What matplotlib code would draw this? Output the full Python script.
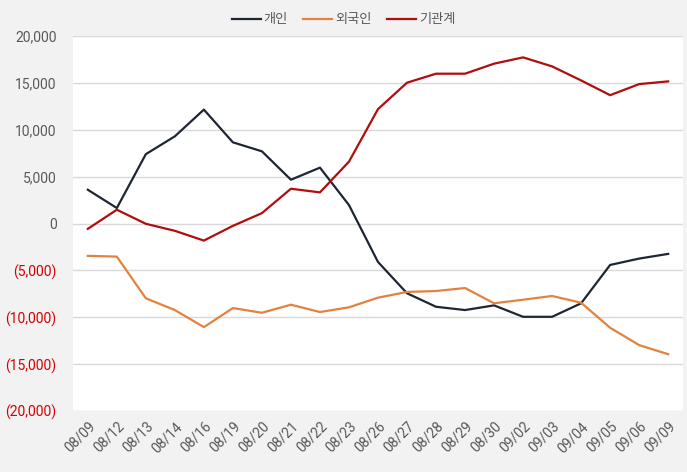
import matplotlib
matplotlib.use("Agg")
import matplotlib.pyplot as plt
from matplotlib.ticker import FixedLocator

plt.rcParams['font.family'] = ['Roboto', 'Noto Sans CJK KR', 'DejaVu Sans']

dates = ["08/09", "08/12", "08/13", "08/14", "08/16", "08/19", "08/20", "08/21",
         "08/22", "08/23", "08/26", "08/27", "08/28", "08/29", "08/30", "09/02",
         "09/03", "09/04", "09/05", "09/06", "09/09"]
individual = [3600, 1650, 7400, 9300, 12150, 8660, 7700, 4670, 5960, 1970, -4100,
              -7440, -8880, -9230, -8730, -9950, -9950, -8510, -4420, -3740, -3240]
foreign = [-3450, -3530, -7980, -9230, -11050, -9020, -9520, -8660, -9440, -8940,
           -7910, -7300, -7200, -6880, -8510, -8130, -7730, -8450, -11120, -12970, -13940]
institution = [-570, 1470, -30, -780, -1820, -250, 1110, 3710, 3320, 6600, 12200,
               15020, 15980, 15980, 17050, 17720, 16760, 15260, 13690, 14870, 15160]
series_names = ["개인", "외국인", "기관계"]
yticks = [-20000, -15000, -10000, -5000, 0, 5000, 10000, 15000, 20000]

fig = plt.figure(figsize=(6.87, 4.72), dpi=100, facecolor="#f2f2f2")
ax = fig.add_axes([0.1067, 0.1292, 0.887, 0.7945])
ax.set_facecolor("white")

x = list(range(len(dates)))
ax.plot(x, individual, color="#1e2633", lw=1.6, label=series_names[0])
ax.plot(x, foreign, color="#e3823f", lw=1.6, label=series_names[1])
ax.plot(x, institution, color="#b00d0d", lw=1.6, label=series_names[2])

ax.set_xlim(-0.5, len(dates) - 0.5)
ax.set_ylim(-20000, 20000)
ax.yaxis.set_major_locator(FixedLocator(yticks))
ax.grid(axis="y", color="#d9d9d9", lw=1)
ax.set_axisbelow(True)
for s in ax.spines.values():
    s.set_visible(False)

ax.set_xticks(x)
ax.set_xticklabels(dates, rotation=45, ha="right", rotation_mode="anchor",
                   color="#595959", fontsize=10)
ax.tick_params(axis="both", length=0)
ax.tick_params(axis="x", pad=6)

labels = []
for v in yticks:
    labels.append(f"({abs(v):,})" if v < 0 else f"{v:,}")
ax.set_yticklabels(labels, fontsize=10)
for t, v in zip(ax.get_yticklabels(), yticks):
    t.set_color("#d40000" if v < 0 else "#595959")
ax.tick_params(axis="y", pad=12)

leg = fig.legend(loc="center", bbox_to_anchor=(0.5, 0.958), ncol=3, frameon=False,
                 fontsize=9.5, handlelength=2.2, handletextpad=0.2, columnspacing=1.2)
for t in leg.get_texts():
    t.set_color("#595959")

fig.savefig("out.png", dpi=100, facecolor=fig.get_facecolor())
